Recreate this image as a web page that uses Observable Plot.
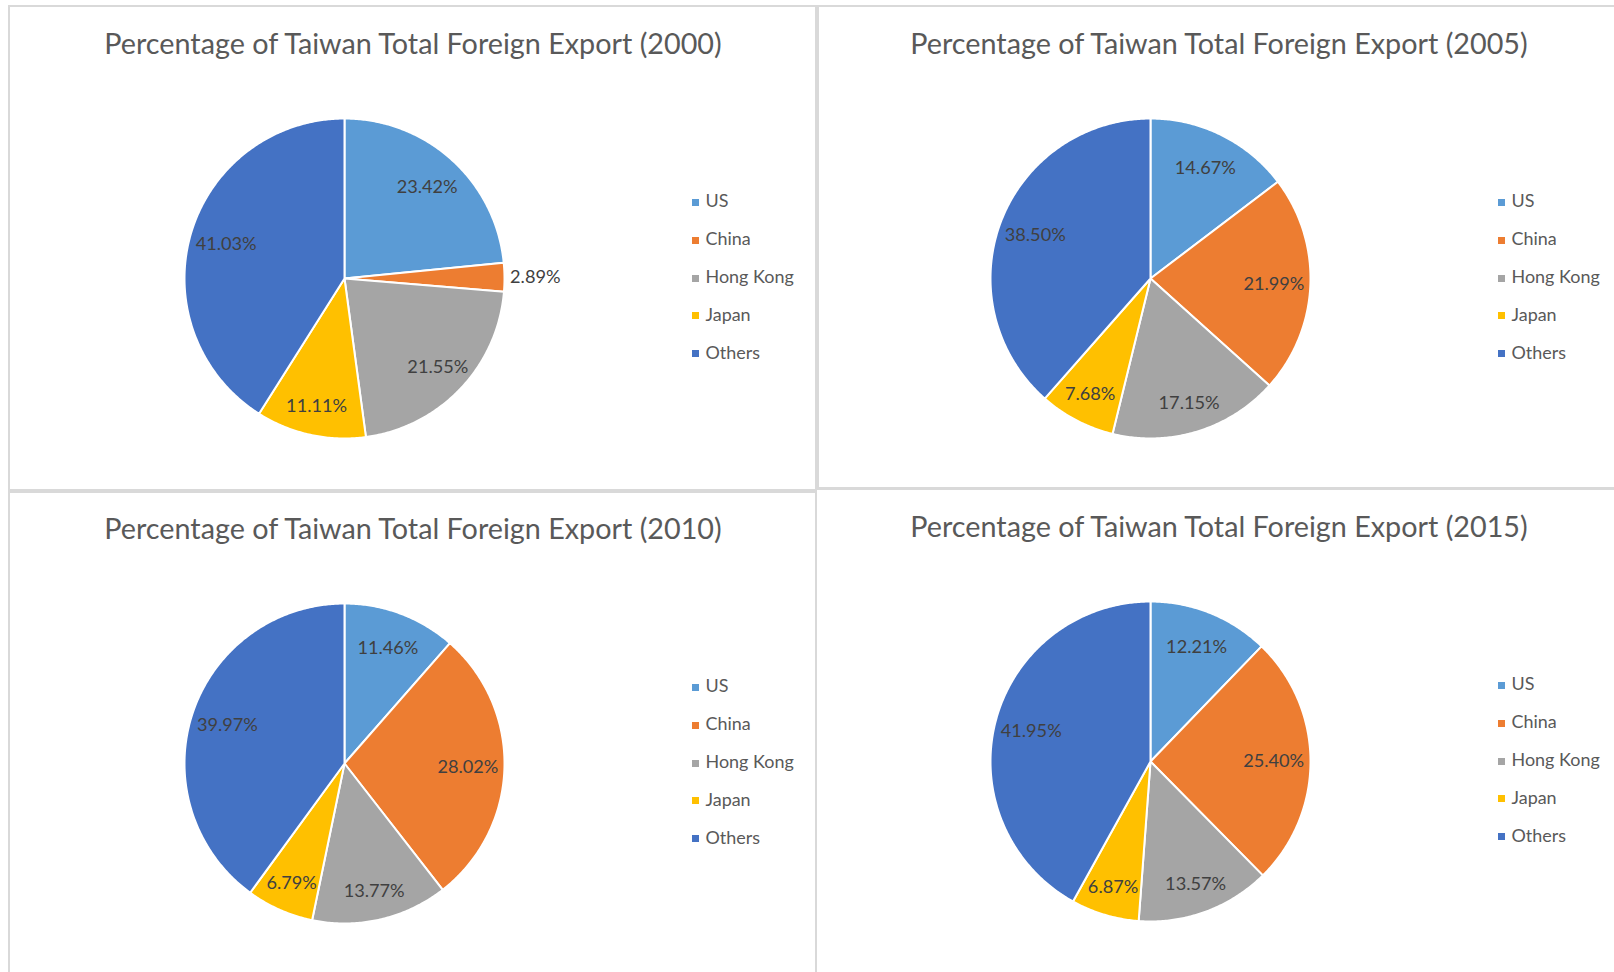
<!DOCTYPE html>
<html>
<head>
<meta charset="utf-8">
<script src="https://cdn.jsdelivr.net/npm/d3@7"></script>
<script src="https://cdn.jsdelivr.net/npm/@observablehq/plot@0.6"></script>
<style>
  html, body { margin: 0; padding: 0; background: #fff; }
  #root { position: relative; width: 1614px; height: 972px; overflow: hidden; background: #fff; }
  .panel { position: absolute; box-sizing: border-box; border: 2px solid #d9d9d9; }
  .title { position: absolute; white-space: nowrap; color: #595959; transform: translate(-50%, -50%); line-height: 1; }
  .leg { position: absolute; white-space: nowrap; color: #595959; line-height: 1; }
  .sw { position: absolute; width: 7px; height: 7px; }
  .plot { position: absolute; }
</style>
</head>
<body>
<div id="root"></div>
<script>
// ---- data ----
const categories = ["US", "China", "Hong Kong", "Japan", "Others"];
const colors = ["#5B9BD5", "#ED7D31", "#A5A5A5", "#FFC000", "#4472C4"];
const years = ["2000", "2005", "2010", "2015"];
const share2000 = [23.42, 2.89, 21.55, 11.11, 41.03];
const share2005 = [14.67, 21.99, 17.15, 7.68, 38.50];
const share2010 = [11.46, 28.02, 13.77, 6.79, 39.97];
const share2015 = [12.21, 25.40, 13.57, 6.87, 41.95];
const shares = [share2000, share2005, share2010, share2015];
const titlePrefix = "Percentage of Taiwan Total Foreign Export";

// ---- layout ----
const FONT = "Lato, 'Open Sans', sans-serif";
const panels = [
  {box: [8, 5, 809, 486], cx: 344, cy: 278, ty: 43},
  {box: [817, 5, 820, 484], cx: 1150, cy: 278, ty: 43},
  {box: [8, 491, 809, 500], cx: 344, cy: 763, ty: 528},
  {box: [815, 488, 820, 500], cx: 1150, cy: 761, ty: 526}
];
const R = 160;

const ctx = document.createElement("canvas").getContext("2d");
function fit(text, target) {
  ctx.font = `100px ${FONT}`;
  return 100 * target / ctx.measureText(text).width;
}
const titleSize = fit(titlePrefix + " (2000)", 620);
const labelSize = fit("23.42%", 61);
const legendSize = fit("Hong Kong", 88.3);

const root = document.getElementById("root");

years.forEach((year, pi) => {
  const p = panels[pi];
  const vals = shares[pi];
  const border = document.createElement("div");
  border.className = "panel";
  Object.assign(border.style, {left: p.box[0] + "px", top: p.box[1] + "px", width: p.box[2] + "px", height: p.box[3] + "px"});
  root.appendChild(border);

  // pie geometry from data
  const rows = categories.map((c, i) => ({cat: c, value: vals[i]}));
  const arcs = d3.pie().sort(null).value(d => d.value)(rows);
  const pts = [];
  const labels = [];
  arcs.forEach(a => {
    const cat = a.data.cat;
    pts.push({cat, x: 0, y: 0});
    const n = Math.max(2, Math.ceil((a.endAngle - a.startAngle) / 0.01));
    for (let k = 0; k <= n; k++) {
      const t = a.startAngle + (a.endAngle - a.startAngle) * k / n;
      pts.push({cat, x: Math.sin(t), y: Math.cos(t)});
    }
    const mid = (a.startAngle + a.endAngle) / 2;
    const outside = a.data.value < 5;
    const r = outside ? 1.035 : 0.77 + 0.05 * Math.max(0, -Math.cos(mid));
    labels.push({cat, outside, x: r * Math.sin(mid), y: r * Math.cos(mid), text: a.data.value.toFixed(2) + "%"});
  });

  const W = 500, H = 420;
  const chart = Plot.plot({
    width: W, height: H,
    margin: 0,
    style: {background: "transparent", overflow: "visible", fontFamily: FONT},
    x: {domain: [-1, 1], range: [W / 2 - R, W / 2 + R], axis: null},
    y: {domain: [-1, 1], range: [H / 2 + R, H / 2 - R], axis: null},
    color: {domain: categories, range: colors},
    marks: [
      Plot.line(pts, {x: "x", y: "y", z: "cat", fill: "cat", stroke: "white", strokeWidth: 2, curve: "linear-closed"}),
      Plot.text(labels.filter(d => !d.outside), {x: "x", y: "y", text: "text", fill: "#404040", fontSize: labelSize, textAnchor: "middle"}),
      Plot.text(labels.filter(d => d.outside), {x: "x", y: "y", text: "text", fill: "#404040", fontSize: labelSize, textAnchor: "start"})
    ]
  });
  chart.classList.add("plot");
  chart.style.left = (p.cx - W / 2) + "px";
  chart.style.top = (p.cy - H / 2) + "px";
  root.appendChild(chart);

  // title
  const t = document.createElement("div");
  t.className = "title";
  t.textContent = `${titlePrefix} (${year})`;
  Object.assign(t.style, {left: (p.cx + 69) + "px", top: p.ty + "px", fontSize: titleSize + "px", fontFamily: FONT});
  root.appendChild(t);

  // legend
  categories.forEach((c, i) => {
    const yc = p.cy - 75.6 + i * 37.8;
    const sw = document.createElement("div");
    sw.className = "sw";
    Object.assign(sw.style, {left: (p.cx + 348) + "px", top: (yc - 3.5) + "px", background: colors[i]});
    root.appendChild(sw);
    const lt = document.createElement("div");
    lt.className = "leg";
    lt.textContent = c;
    Object.assign(lt.style, {left: (p.cx + 361.5) + "px", top: yc + "px", fontSize: legendSize + "px", fontFamily: FONT, transform: "translateY(-55%)"});
    root.appendChild(lt);
  });
});
</script>
</body>
</html>
